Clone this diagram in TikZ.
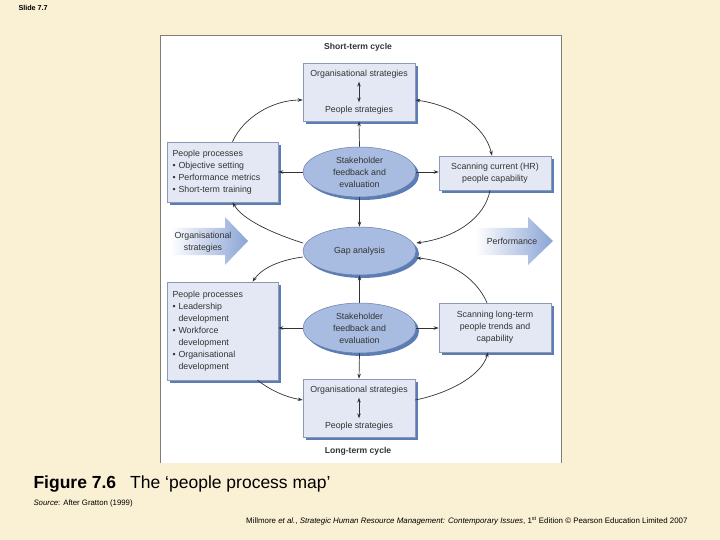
\documentclass[tikz,border=0pt]{standalone}
\usepackage{fontspec}
\setmainfont{Liberation Sans}
\usepackage{tikz}
\usetikzlibrary{arrows.meta,positioning,shapes.geometric,shadows}

\definecolor{slidebg}{HTML}{FAF0D3}
\definecolor{boxfill}{HTML}{E3E8F4}
\definecolor{boxline}{HTML}{8D98B2}
\definecolor{ellfill}{HTML}{A8BBE0}
\definecolor{ellline}{HTML}{6B7EA6}
\definecolor{shadowblue}{HTML}{5B7DB6}
\definecolor{arrowblue}{HTML}{8AA4D6}
\definecolor{inktext}{HTML}{333333}
\definecolor{frameline}{HTML}{807D72}

\begin{document}
\begin{tikzpicture}[
  x=1pt, y=-1pt,
  every node/.style={font=\fontsize{8.8}{12}\selectfont, text=inktext},
  procbox/.style={draw=boxline, line width=0.5pt, fill=boxfill, inner sep=0pt,
    drop shadow={shadow xshift=3pt, shadow yshift=-3pt, fill=shadowblue, opacity=1}},
  evalell/.style={ellipse, draw=ellline, line width=0.5pt, fill=ellfill, inner sep=0pt,
    minimum width=113pt, align=center,
    drop shadow={shadow xshift=3pt, shadow yshift=-3pt, fill=shadowblue, opacity=1}},
  link/.style={draw=inktext, line width=0.7pt, -{Stealth[length=5pt,width=3.5pt]}},
  twolink/.style={link, {Stealth[length=5pt,width=3.5pt]}-{Stealth[length=5pt,width=3.5pt]}},
  caption/.style={font=\fontsize{8.6}{10}\selectfont\bfseries}
]
\useasboundingbox (0,0) rectangle (720,540);
\fill[slidebg] (0,0) rectangle (720,540);
% white panel of the figure
\fill[white] (160,35) rectangle (561,463);
\draw[frameline, line width=0.8pt] (160,463) -- (160,35) -- (561,35) -- (561,463);

\node[anchor=west, font=\fontsize{7.2}{8}\selectfont\bfseries, text=black] (slideno) at (15,8) {Slide 7.7};

% big input/output arrows
\shade[left color=white, right color=arrowblue]
  (170,228) -- (225,228) -- (225,217) -- (248,241) -- (225,265) -- (225,255) -- (170,255) -- cycle;
\shade[left color=white, right color=arrowblue]
  (475,228) -- (528,228) -- (528,217) -- (553,241) -- (528,265) -- (528,255) -- (475,255) -- cycle;
\node[align=center] (orgin) at (203,242) {Organisational\\strategies};
\node (perfout) at (512,241) {Performance};

\node[caption] (shortcyc) at (358,47) {Short-term cycle};
\node[caption] (longcyc) at (358,451) {Long-term cycle};

% short-term cycle
\node[procbox, minimum width=112pt, minimum height=58pt] (topbox) at (359,92) {};
\node (toporg) at (359,74) {Organisational strategies};
\node (toppeople) at (359,110) {People strategies};
\node[procbox, minimum width=111pt, minimum height=60pt, text width=100pt, align=left] (leftbox) at (222.5,172)
  {People processes\\\textbullet\ Objective setting\\\textbullet\ Performance metrics\\\textbullet\ Short-term training};
\node[procbox, minimum width=112pt, minimum height=34pt, align=center] (rtbox) at (495,173)
  {Scanning current (HR)\\people capability};
\node[evalell, minimum height=50pt] (ellup) at (359.5,172) {Stakeholder\\feedback and\\evaluation};

% gap analysis
\node[evalell, minimum height=48pt] (gap) at (359.5,251) {Gap analysis};

% long-term cycle
\node[procbox, minimum width=111pt, minimum height=98pt, text width=100pt, align=left] (lowleft) at (222.5,331)
  {People processes\\\textbullet\ Leadership\\\hphantom{\textbullet\ }development\\\textbullet\ Workforce\\\hphantom{\textbullet\ }development\\\textbullet\ Organisational\\\hphantom{\textbullet\ }development};
\node[procbox, minimum width=112pt, minimum height=49pt, align=center] (rlbox) at (495,327.5)
  {Scanning long-term\\people trends and\\capability};
\node[evalell, minimum height=50pt] (elllow) at (359.5,328) {Stakeholder\\feedback and\\evaluation};
\node[procbox, minimum width=112pt, minimum height=58pt] (botbox) at (359,408) {};
\node (botorg) at (359,390) {Organisational strategies};
\node (botpeople) at (359,426) {People strategies};

% links inside the boxes
\draw[twolink] (toporg) -- (toppeople);
\draw[twolink] (botorg) -- (botpeople);

% spokes of the ellipses
\draw[link] (ellup.north) -- (topbox.south);
\draw[link] (ellup.south) -- (gap.north);
\draw[link] (ellup.west) -- (ellup.west -| leftbox.east);
\draw[link] (ellup.east) -- (ellup.east -| rtbox.west);
\draw[link] (elllow.north) -- (gap.south);
\draw[link] (elllow.south) -- (botbox.north);
\draw[link] (elllow.west) -- (elllow.west -| lowleft.east);
\draw[link] (elllow.east) -- (elllow.east -| rlbox.west);

% outer cycles
\draw[link] ([xshift=10pt]leftbox.north) .. controls (243,118) and (272,100) .. ([yshift=-8pt]topbox.west);
\draw[twolink] ([yshift=-8pt]topbox.east) .. controls (452,105) and (485,125) .. ([xshift=-3pt]rtbox.north);
\draw[link] ([xshift=-5pt]rtbox.south) .. controls (485,218) and (455,238) .. ([yshift=8pt]gap.east);
\draw[link] ([yshift=8pt]gap.west) .. controls (272,233) and (243,220) .. ([xshift=10pt]leftbox.south);
\draw[link] ([yshift=-6pt]gap.west) .. controls (280,260) and (262,268) .. ([xshift=30pt]lowleft.north);
\draw[link] ([xshift=35pt]lowleft.south) .. controls (270,390) and (285,397) .. ([yshift=8pt]botbox.west);
\draw[link] ([yshift=8pt]botbox.east) .. controls (450,393) and (482,375) .. ([xshift=-7pt]rlbox.south);
\draw[link] ([xshift=-8pt]rlbox.north) .. controls (475,275) and (445,260) .. ([yshift=-7pt]gap.east);

% caption and source lines
\node[anchor=west, font=\fontsize{17.5}{20}\selectfont, text=black] (figtitle) at (30,484)
  {\textbf{Figure 7.6}\hspace{14pt}The ‘people process map’};
\node[anchor=west, font=\fontsize{7.8}{9}\selectfont, text=black] (source) at (30,503)
  {\textit{Source}: After Gratton (1999)};
\node[anchor=east, font=\fontsize{7.9}{9}\selectfont, text=black] (credit) at (691,521)
  {Millmore \textit{et al.}, \textit{Strategic Human Resource Management: Contemporary Issues}, 1\textsuperscript{st} Edition © Pearson Education Limited 2007};
\end{tikzpicture}
\end{document}
